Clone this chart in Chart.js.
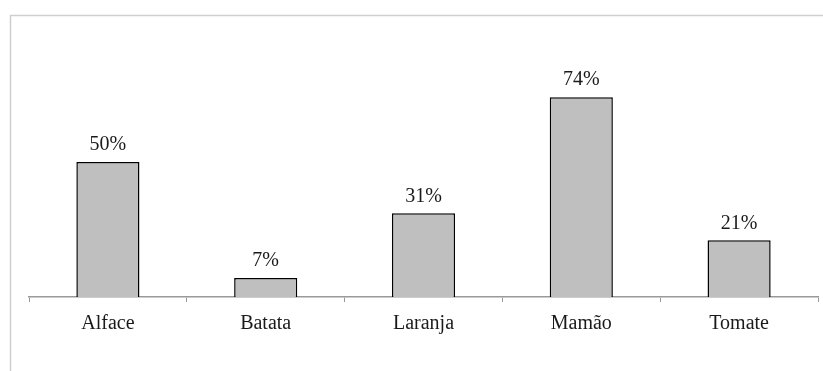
<!DOCTYPE html>
<html>
<head>
<meta charset="utf-8">
<script src="https://cdn.jsdelivr.net/npm/chart.js@4/dist/chart.umd.min.js"></script>
<style>
  html, body { margin: 0; padding: 0; background: #fff; }
  #wrap { position: relative; width: 823px; height: 371px; }
</style>
</head>
<body>
<div id="wrap"><canvas id="myChart" width="823" height="371"></canvas></div>
<script>
// categorias e valores (%)
const categorias = ['Alface', 'Batata', 'Laranja', 'Mamão', 'Tomate']
const valores = [50, 7, 31, 74, 21]

const fonte = "'Liberation Serif', 'Times New Roman', 'DejaVu Serif', serif"

// moldura cinza à esquerda e em cima
const moldura = {
    id: 'moldura',
    beforeDraw(chart) {
        const c = chart.ctx
        c.save()
        c.strokeStyle = '#cfcfcf'
        c.lineWidth = 1.5
        c.beginPath()
        c.moveTo(10.5, chart.height)
        c.lineTo(10.5, 15.5)
        c.lineTo(chart.width, 15.5)
        c.stroke()
        c.restore()
    }
}

// rótulos de percentagem acima das barras
const rotulos = {
    id: 'rotulos',
    afterDatasetsDraw(chart) {
        const c = chart.ctx
        const meta = chart.getDatasetMeta(0)
        c.save()
        c.font = '20px ' + fonte
        c.fillStyle = '#1a1a1a'
        c.textAlign = 'center'
        c.textBaseline = 'middle'
        meta.data.forEach((bar, i) => {
            c.fillText(valores[i] + '%', bar.x, bar.y - 17)
        })
        c.restore()
    }
}

const ctx = document.getElementById('myChart').getContext('2d')

const myChart = new Chart(ctx, {
    type: 'bar',
    data: {
        labels: categorias,
        datasets: [{
            data: valores,
            backgroundColor: '#bfbfbf',
            borderColor: '#000',
            borderWidth: 1.5,
            barPercentage: 0.8,
            categoryPercentage: 0.5,
        }]
    },
    options: {
        responsive: false,
        animation: false,
        layout: { padding: { left: 29, right: 5, top: 27, bottom: 0 } },
        plugins: { legend: { display: false }, tooltip: { enabled: false } },
        scales: {
            y: { display: false, min: 0, max: 100 },
            x: {
                afterFit(scale) { scale.height = 74 },
                grid: {
                    drawOnChartArea: false,
                    tickLength: 5,
                    color: '#999',
                    lineWidth: 1,
                },
                border: { color: '#999', width: 1.5 },
                ticks: {
                    color: '#1a1a1a',
                    padding: 10,
                    maxRotation: 0,
                    autoSkip: false,
                    font: { family: fonte, size: 20 },
                },
            }
        }
    },
    plugins: [moldura, rotulos]
})
</script>
</body>
</html>
